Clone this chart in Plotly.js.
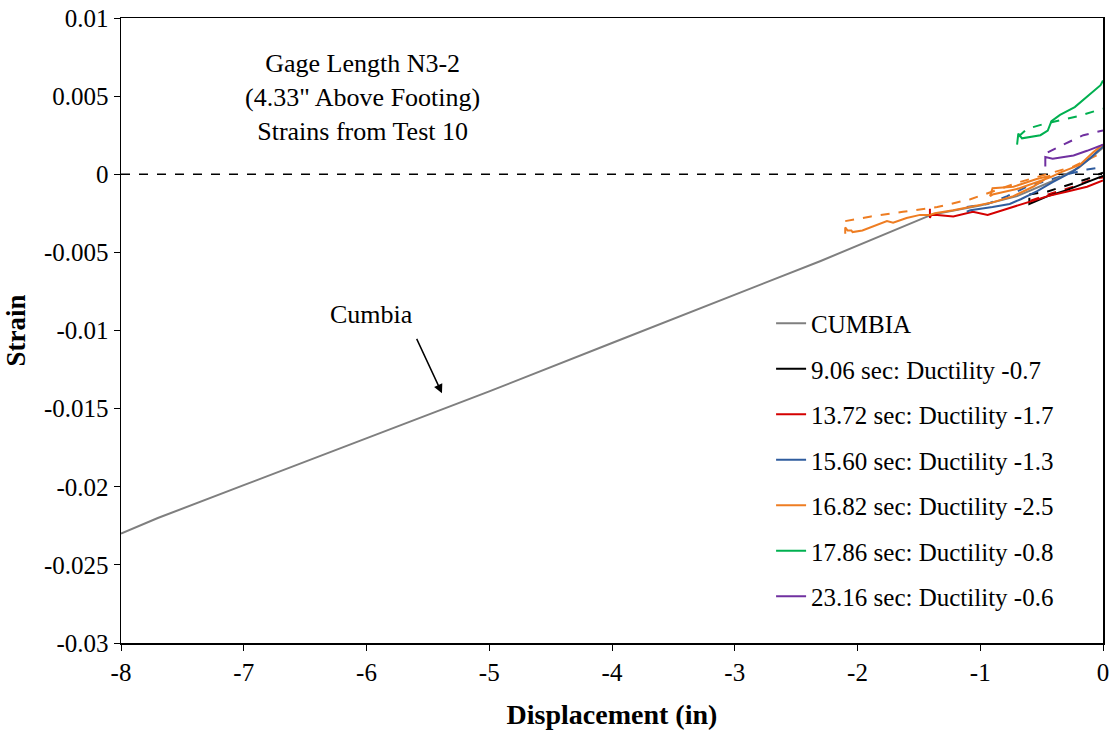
<!DOCTYPE html>
<html>
<head>
<meta charset="utf-8">
<script src="https://cdn.plot.ly/plotly-3.0.1.min.js"></script>
<style>html,body{margin:0;padding:0;background:#fff}#chart{width:1116px;height:736px}</style>
</head>
<body>
<div id="chart"></div>
<script>
// ---- data ----
const cumbiaX = [-8, -7.7, -7, -6, -5, -4, -3, -2.3, -1.4, -1.0, -0.7, -0.4, -0.2, 0];
const cumbiaY = [-0.0230, -0.0220, -0.0199, -0.0169, -0.0139, -0.0108, -0.0077, -0.00555, -0.0026, -0.0020, -0.0014, -0.0004, 0.0004, 0.0017];

const zeroX = [-8, 0];
const zeroY = [0, 0];

const blackX = [-0.60, -0.60, -0.45, -0.29, -0.13, 0];
const blackY = [-0.0015, -0.0019, -0.0014, -0.0010, -0.0005, -0.0001];
const blackDX = [-0.60, -0.45, -0.29, -0.13, 0];
const blackDY = [-0.0013, -0.0011, -0.0007, -0.0003, 0.0001];

const redX = [-1.41, -1.41, -1.40, -1.35, -1.22, -1.06, -0.94, -0.78, -0.62, -0.45, -0.29, -0.13, 0];
const redY = [-0.0022, -0.0028, -0.0026, -0.0026, -0.0027, -0.0024, -0.0026, -0.0022, -0.0018, -0.0014, -0.0011, -0.0008, -0.0004];
const redDX = [-0.59, -0.41, -0.24, -0.08, 0];
const redDY = [-0.0017, -0.0012, -0.0008, -0.0003, -0.0002];

const blueX = [-1.11, -1.08, -0.90, -0.76, -0.67, -0.54, -0.41, -0.24, -0.11, 0];
const blueY = [-0.0024, -0.0023, -0.0021, -0.0019, -0.0016, -0.0011, -0.0005, 0.0002, 0.0010, 0.0018];
const blueDX = [-1.11, -0.94, -0.78, -0.62, -0.45, -0.29, -0.13, 0];
const blueDY = [-0.0021, -0.0019, -0.0014, -0.0008, -0.0004, 0.0000, 0.0003, 0.00045];

const orangeX = [-2.10, -2.10, -2.08, -2.05, -2.04, -1.96, -1.76, -1.71, -1.60, -1.49, -1.41, -1.37, -1.22, -1.08, -0.90, -0.73, -0.57, -0.43,
                 -0.54, -0.73, -0.90, -0.92, -0.90, -0.68, -0.43, -0.35, -0.19, -0.08, 0];
const orangeY = [-0.0038, -0.0034, -0.0036, -0.0036, -0.0037, -0.0036, -0.0030, -0.0031, -0.0028, -0.0026, -0.0026, -0.0025, -0.0023, -0.0021, -0.0018, -0.0014, -0.0008, -0.0001,
                 -0.0003, -0.0008, -0.0009, -0.0014, -0.0013, -0.0009, -0.0002, 0.0001, 0.0006, 0.0014, 0.0019];
const orangeDX = [-2.10, -1.89, -1.63, -1.35, -1.08, -0.90, -0.68, -0.46, -0.24, 0];
const orangeDY = [-0.0030, -0.0027, -0.0024, -0.0021, -0.0016, -0.0011, -0.0005, 0.0000, 0.0005, 0.0014];

const greenX = [-0.70, -0.69, -0.66, -0.51, -0.45, -0.42, -0.35, -0.23, -0.02, 0];
const greenY = [0.0019, 0.0026, 0.0023, 0.0025, 0.0028, 0.0034, 0.0038, 0.0043, 0.0057, 0.0060];
const greenDX = [-0.69, -0.62, -0.49, -0.21, 0];
const greenDY = [0.0024, 0.0029, 0.0032, 0.0037, 0.0042];

const purpleX = [-0.47, -0.47, -0.41, -0.24, -0.13, 0];
const purpleY = [0.0005, 0.0011, 0.0010, 0.0012, 0.0015, 0.0019];
const purpleDX = [-0.45, -0.35, -0.16, 0];
const purpleDY = [0.0014, 0.0018, 0.0025, 0.0028];

const legendNames = ['CUMBIA', '9.06 sec: Ductility -0.7', '13.72 sec: Ductility -1.7', '15.60 sec: Ductility -1.3',
                     '16.82 sec: Ductility -2.5', '17.86 sec: Ductility -0.8', '23.16 sec: Ductility -0.6'];

const xTickVals = [-8, -7, -6, -5, -4, -3, -2, -1, 0];
const xTickText = ['-8', '-7', '-6', '-5', '-4', '-3', '-2', '-1', '0'];
const yTickVals = [0.01, 0.005, 0, -0.005, -0.01, -0.015, -0.02, -0.025, -0.03];
const yTickText = ['0.01', '0.005', '0', '-0.005', '-0.01', '-0.015', '-0.02', '-0.025', '-0.03'];

// ---- styles ----
const colors = {gray:'#7f7f7f', black:'#000000', red:'#d40000', blue:'#2f5c9e', orange:'#ee7d22', green:'#00b050', purple:'#7030a0'};
const LW = 2;

function solid(x, y, name, color, w) {
  return {x, y, name, type:'scatter', mode:'lines', line:{color, width:w||LW}, legendgroup:name};
}
function dashed(x, y, color) {
  return {x, y, type:'scatter', mode:'lines', line:{color, width:LW, dash:'dash'}, showlegend:false, hoverinfo:'skip'};
}

const traces = [
  {x:zeroX, y:zeroY, type:'scatter', mode:'lines', line:{color:'#000', width:1.5, dash:'dash'}, showlegend:false},
  dashed(blackDX, blackDY, colors.black),
  dashed(redDX, redDY, colors.red),
  dashed(blueDX, blueDY, colors.blue),
  dashed(orangeDX, orangeDY, colors.orange),
  dashed(greenDX, greenDY, colors.green),
  dashed(purpleDX, purpleDY, colors.purple),
  solid(cumbiaX, cumbiaY, legendNames[0], colors.gray, 2),
  solid(blackX, blackY, legendNames[1], colors.black),
  solid(redX, redY, legendNames[2], colors.red),
  solid(blueX, blueY, legendNames[3], colors.blue),
  solid(orangeX, orangeY, legendNames[4], colors.orange),
  solid(greenX, greenY, legendNames[5], colors.green),
  solid(purpleX, purpleY, legendNames[6], colors.purple)
];

const serif = 'Liberation Serif, Times New Roman, serif';

const layout = {
  width:1116, height:736,
  margin:{l:121, r:13, t:18, b:93},
  paper_bgcolor:'#fff', plot_bgcolor:'#fff',
  font:{family:serif, size:25, color:'#000'},
  showlegend:true,
  legend:{x:0.662, y:0.548, xanchor:'left', yanchor:'top', bgcolor:'rgba(0,0,0,0)',
          font:{family:serif, size:25, color:'#000'}, traceorder:'grouped', tracegroupgap:10},
  xaxis:{range:[-8, 0], tickvals:xTickVals, ticktext:xTickText, showgrid:false, zeroline:false,
         showline:true, linecolor:'#000', linewidth:1.5, mirror:true, ticks:'outside', ticklen:6, tickcolor:'#000',
         tickfont:{family:serif, size:25},
         title:{text:'<b>Displacement (in)</b>', font:{family:serif, size:28}, standoff:20}},
  yaxis:{range:[-0.03, 0.01], tickvals:yTickVals, ticktext:yTickText, showgrid:false, zeroline:false,
         showline:true, linecolor:'#000', linewidth:1.5, mirror:true, ticks:'outside', ticklen:6, tickcolor:'#000',
         tickfont:{family:serif, size:25},
         title:{text:'<b>Strain</b>', font:{family:serif, size:27}, standoff:10}},
  annotations:[
    {x:-6.03, y:0.0049, xref:'x', yref:'y', showarrow:false, align:'center',
     text:'Gage Length N3-2<br>(4.33" Above Footing)<br>Strains from Test 10', font:{family:serif, size:26}},
    {x:-5.96, y:-0.0090, xref:'x', yref:'y', showarrow:false, text:'Cumbia', font:{family:serif, size:26}},
    {x:-5.385, y:-0.01402, xref:'x', yref:'y', text:'', showarrow:true, arrowhead:2, arrowsize:1.2, arrowwidth:1.5,
     arrowcolor:'#000', ax:-26, ay:-56}
  ]
};

Plotly.newPlot('chart', traces, layout, {displayModeBar:false, staticPlot:true});
</script>
</body>
</html>
